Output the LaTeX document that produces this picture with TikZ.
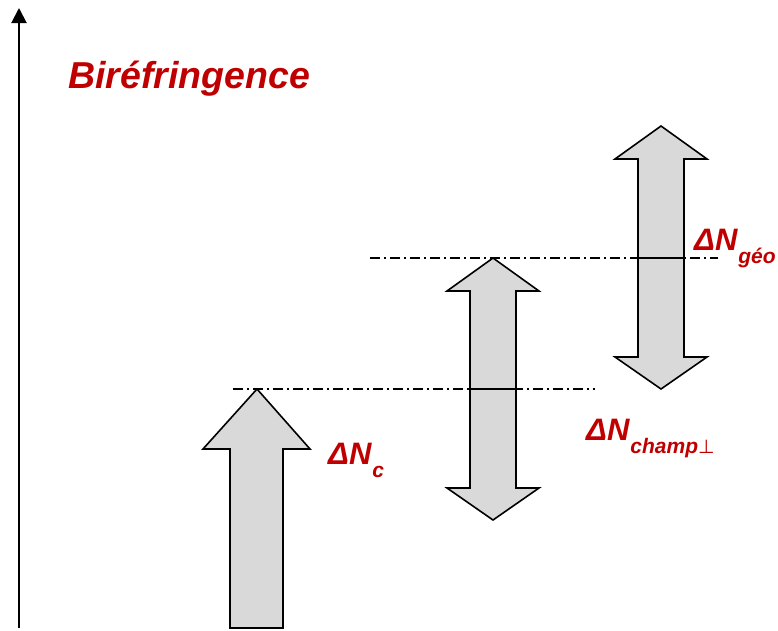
\documentclass[tikz,border=0pt]{standalone}
\usepackage{fontspec}
\setmainfont{Liberation Sans}
\newfontfamily\symfont{DejaVu Sans}
\usetikzlibrary{arrows.meta}
\definecolor{labred}{RGB}{192,0,0}
\definecolor{arrowgray}{RGB}{217,217,217}
\tikzset{
  blockarrow/.style={draw=black, fill=arrowgray, line width=1.6pt, line join=miter},
  levelline/.style={draw=black, line width=1.1pt, dash pattern=on 10pt off 4pt on 2pt off 4pt},
  midline/.style={draw=black, line width=1.6pt},
  lab/.style={text=labred, font=\fontsize{31}{31}\selectfont\bfseries\itshape, inner sep=0pt, anchor=base west},
}
\newcommand{\subtxt}[1]{\kern1pt\raisebox{-13pt}{\fontsize{21}{21}\selectfont #1}}
\begin{document}
\begin{tikzpicture}[x=1pt,y=-1pt]
\useasboundingbox (0,0) rectangle (778,630);
% axis
\coordinate (axb) at (19,628);
\coordinate (axt) at (19,8);
\draw[line width=2pt, -{Triangle[length=15pt,width=15pt]}] (axb) -- (axt);
% title
\node[lab, font=\fontsize{37.5}{37.5}\selectfont\bfseries\itshape] (title) at (68,88) {Biréfringence};
% level lines
\coordinate (l1a) at (233,389);
\coordinate (l1b) at (595,389);
\coordinate (l2a) at (370,258);
\coordinate (l2b) at (718,258);
\draw[levelline] (l1a) -- (l1b);
\draw[levelline] (l2a) -- (l2b);
% arrow 1 (up)
\draw[blockarrow] (230,628) -- (230,449) -- (203,449) -- (257,389) -- (310,449) -- (283,449) -- (283,628) -- cycle;
% arrow 2 (double)
\draw[blockarrow] (470,291) -- (447,291) -- (493,258) -- (539,291) -- (516,291) -- (516,488) -- (539,488) -- (493,520) -- (447,488) -- (470,488) -- cycle;
\draw[midline] (470,389) -- (516,389);
% arrow 3 (double)
\draw[blockarrow] (638,159) -- (615,159) -- (661,126) -- (707,159) -- (684,159) -- (684,357) -- (707,357) -- (661,389) -- (615,357) -- (638,357) -- cycle;
\draw[midline] (638,258) -- (684,258);
% labels
\node[lab] (nc) at (328,464) {ΔN\subtxt{c}};
\node[lab] (ngeo) at (694,250) {ΔN\subtxt{géo}};
\node[lab] (nch) at (586,440) {ΔN\subtxt{champ{\symfont\fontsize{19}{19}\selectfont\mdseries\upshape ⊥}}};
\end{tikzpicture}
\end{document}
